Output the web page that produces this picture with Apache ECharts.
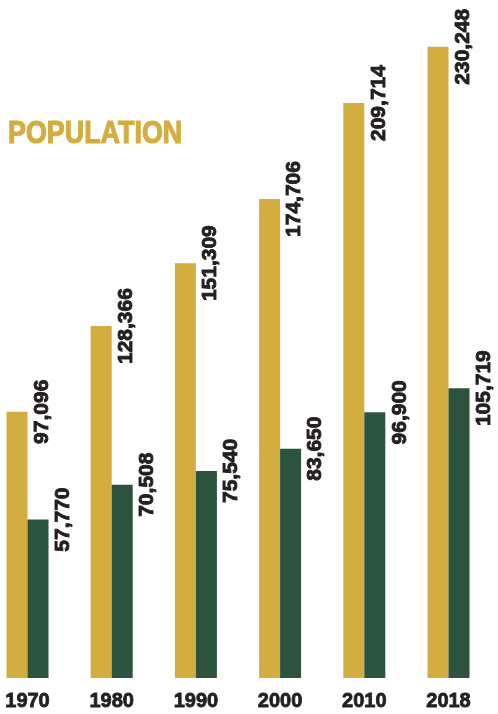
<!DOCTYPE html>
<html>
<head>
<meta charset="utf-8">
<script src="https://cdn.jsdelivr.net/npm/echarts@6/dist/echarts.min.js"></script>
<style>html,body{margin:0;padding:0;background:#fff}#c{width:498px;height:714px}</style>
</head>
<body>
<div id="c"></div>
<script>
var years = ['1970', '1980', '1990', '2000', '2010', '2018'];
var countyPop = [97096, 128366, 151309, 174706, 209714, 230248];
var cityPop = [57770, 70508, 75540, 83650, 96900, 105719];
var titleText = 'POPULATION';

var GOLD = '#d4ad41';
var GREEN = '#2c533e';
var INK = '#231f20';

function fmt(v) { return String(v).replace(/\B(?=(\d{3})+(?!\d))/g, ','); }

var labelStyle = {
  show: true,
  position: [35.5, 0],
  rotate: 90,
  align: 'center',
  verticalAlign: 'middle',
  fontFamily: 'Liberation Sans, Arial, sans-serif',
  fontWeight: 'bold',
  fontSize: 21,
  color: INK,
  textBorderColor: INK,
  textBorderWidth: 0.9,
  formatter: function (p) { return fmt(p.value); }
};

var chart = echarts.init(document.getElementById('c'), null, { renderer: 'canvas' });
chart.setOption({
  animation: false,
  graphic: [{
    type: 'text',
    x: 8,
    y: 118,
    scaleX: 0.84,
    style: {
      text: titleText,
      font: 'bold 32px "Liberation Sans", Arial, sans-serif',
      fill: GOLD,
      stroke: GOLD,
      lineWidth: 1.2,
      textAlign: 'left',
      textVerticalAlign: 'top'
    }
  }],
  grid: { left: 27.5, right: 49.5, top: 20, height: 658 },
  xAxis: {
    type: 'category',
    data: years,
    boundaryGap: false,
    axisLine: { show: false },
    axisTick: { show: false },
    axisLabel: {
      margin: 13,
      fontFamily: 'Liberation Sans, Arial, sans-serif',
      fontWeight: 'bold',
      fontSize: 20,
      color: INK,
      textBorderColor: INK,
      textBorderWidth: 0.8
    }
  },
  yAxis: {
    type: 'value',
    min: 0,
    max: 240000,
    show: false,
    splitLine: { show: false }
  },
  series: [
    {
      type: 'bar',
      data: countyPop,
      barWidth: 21,
      barGap: '0%',
      clip: false,
      itemStyle: { color: GOLD },
      label: labelStyle
    },
    {
      type: 'bar',
      data: cityPop,
      barWidth: 21,
      barGap: '0%',
      clip: false,
      itemStyle: { color: GREEN },
      label: labelStyle
    }
  ]
});
</script>
</body>
</html>
